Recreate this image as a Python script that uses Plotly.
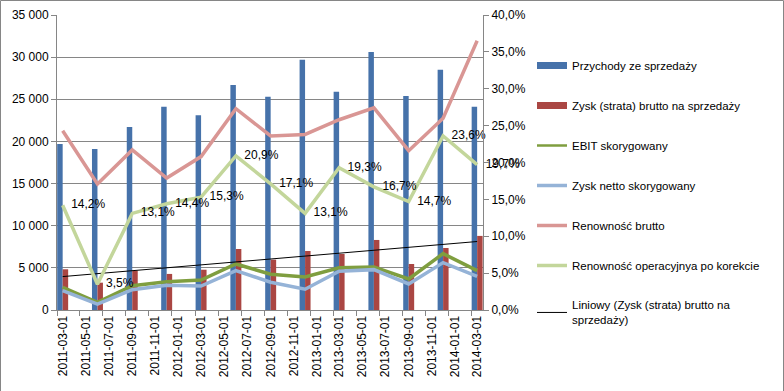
import numpy as np
import plotly.graph_objects as go

# ---- data ----
dates = ["2011-03-01", "2011-06-01", "2011-09-01", "2011-12-01", "2012-03-01",
         "2012-06-01", "2012-09-01", "2012-12-01", "2013-03-01", "2013-06-01",
         "2013-09-01", "2013-12-01", "2014-03-01"]
przychody = [19700, 19100, 21700, 24100, 23100, 26700, 25300, 29700, 25900, 30600, 25400, 28500, 24100]
zysk_brutto = [4830, 3240, 4670, 4280, 4780, 7240, 5970, 7000, 6650, 8310, 5460, 7360, 8790]
ebit = [2700, 900, 2890, 3360, 3560, 5460, 4240, 3920, 5010, 5100, 3680, 6690, 4670]
zysk_netto = [2290, 700, 2410, 2930, 2850, 4670, 3290, 2460, 4600, 4790, 3090, 5620, 4000]
ren_brutto = [0.243, 0.171, 0.217, 0.179, 0.208, 0.273, 0.236, 0.238, 0.258, 0.274, 0.216, 0.260, 0.365]
ren_oper = [0.142, 0.035, 0.131, 0.144, 0.153, 0.209, 0.171, 0.131, 0.193, 0.167, 0.147, 0.236, 0.197]

names = ["Przychody ze sprzedaży", "Zysk (strata) brutto na sprzedaży", "EBIT skorygowany",
         "Zysk netto skorygowany", "Renowność brutto", "Renowność operacyjnya po korekcie",
         "Liniowy (Zysk (strata) brutto na<br>sprzedaży)"]

# linear trendline of the gross profit series
idx = np.arange(len(dates))
slope, intercept = np.polyfit(idx, zysk_brutto, 1)
trend = [intercept, intercept + slope * idx[-1]]

# ---- style ----
FONT = "Liberation Sans, Arial, sans-serif"
C_BLUE = "#4672AA"
C_RED = "#AA4643"
C_EBIT = "#7F9E3F"
C_NETTO = "#95B3D7"
C_RBR = "#D99694"
C_ROP = "#C3D69B"
GRID = "#868686"
DAY = 86400000
BARW = 14.5 * DAY

fig = go.Figure()
fig.add_trace(go.Bar(x=dates, y=przychody, name=names[0], marker_color=C_BLUE,
                     marker_line_width=0, width=BARW, offset=-BARW, showlegend=False))
fig.add_trace(go.Bar(x=dates, y=zysk_brutto, name=names[1], marker_color=C_RED,
                     marker_line_width=0, width=BARW, offset=0, showlegend=False))
fig.add_trace(go.Scatter(x=dates, y=ebit, name=names[2], mode="lines",
                         line=dict(color=C_EBIT, width=3.5), showlegend=False))
fig.add_trace(go.Scatter(x=dates, y=zysk_netto, name=names[3], mode="lines",
                         line=dict(color=C_NETTO, width=3.5), showlegend=False))
fig.add_trace(go.Scatter(x=[dates[0], dates[-1]], y=trend, name=names[6], mode="lines",
                         line=dict(color="black", width=1), showlegend=False))
fig.add_trace(go.Scatter(x=dates, y=ren_brutto, name=names[4], mode="lines", yaxis="y2",
                         line=dict(color=C_RBR, width=3.5), showlegend=False))
fig.add_trace(go.Scatter(x=dates, y=ren_oper, name=names[5], mode="lines+markers+text", yaxis="y2",
                         line=dict(color=C_ROP, width=3.5),
                         marker=dict(size=12, opacity=0),
                         texttemplate="%{y:.1%}", textposition="middle right",
                         textfont=dict(size=12, color="black", family=FONT),
                         cliponaxis=False, showlegend=False))

# legend entries (Excel-like swatches)
leg = [(names[0], C_BLUE, 7), (names[1], C_RED, 7), (names[2], C_EBIT, 2.5),
       (names[3], C_NETTO, 3.5), (names[4], C_RBR, 3.5), (names[5], C_ROP, 3.5),
       (names[6], "black", 1)]
for i, (nm, col, w) in enumerate(leg):
    fig.add_trace(go.Scatter(x=[None], y=[None], name=nm, mode="lines",
                             line=dict(color=col, width=w), legendgroup=f"g{i}",
                             showlegend=True))

L, R, T, B = 57, 301, 15, 81
W, H = 784, 391
pw, ph = W - L - R, H - T - B

fig.update_layout(
    width=W, height=H,
    margin=dict(l=L, r=R, t=T, b=B, pad=0, autoexpand=False),
    paper_bgcolor="white", plot_bgcolor="white",
    separators=", ",
    font=dict(family=FONT, size=12, color="black"),
    barmode="overlay",
    showlegend=True,
    legend=dict(x=(532 - L) / pw, y=(H - B - 51) / ph, xanchor="left", yanchor="top",
                traceorder="grouped", tracegroupgap=21,
                font=dict(size=11.5, family=FONT, color="black"),
                bgcolor="rgba(0,0,0,0)", itemwidth=30),
    xaxis=dict(type="date", range=["2011-02-14", "2014-03-16 12:00"],
               tick0="2011-03-01", dtick="M2", tickformat="%Y-%m-%d", tickangle=-90,
               ticks="", showgrid=False, showline=True, linecolor=GRID, linewidth=1,
               tickfont=dict(size=12),
               minor=dict(tick0="2011-02-15", dtick="M2", ticks="outside", ticklen=5,
                          tickcolor=GRID, showgrid=False)),
    yaxis=dict(range=[0, 35000], dtick=5000, tickformat=",.0f", showgrid=True,
               gridcolor=GRID, gridwidth=1, showline=True, linecolor=GRID,
               ticks="outside", ticklen=5, tickcolor=GRID, zeroline=False,
               tickfont=dict(size=12)),
    yaxis2=dict(range=[0, 0.4], dtick=0.05, tickformat=".1%", overlaying="y", side="right",
                showgrid=False, showline=True, linecolor=GRID, ticks="outside",
                ticklen=5, tickcolor=GRID, zeroline=False, tickfont=dict(size=12)),
    shapes=[dict(type="rect", xref="paper", yref="paper",
                 x0=(0.5 - L) / pw, x1=(W - 0.5 - L) / pw,
                 y0=(B - H + 0.5) / ph, y1=(H - 0.5 - B) / ph,
                 line=dict(color=GRID, width=1), fillcolor="rgba(0,0,0,0)", layer="below")],
)

fig.write_html("out.html", config={"displayModeBar": False},
               post_script="document.body.style.margin='0';document.body.style.overflow='hidden';")
